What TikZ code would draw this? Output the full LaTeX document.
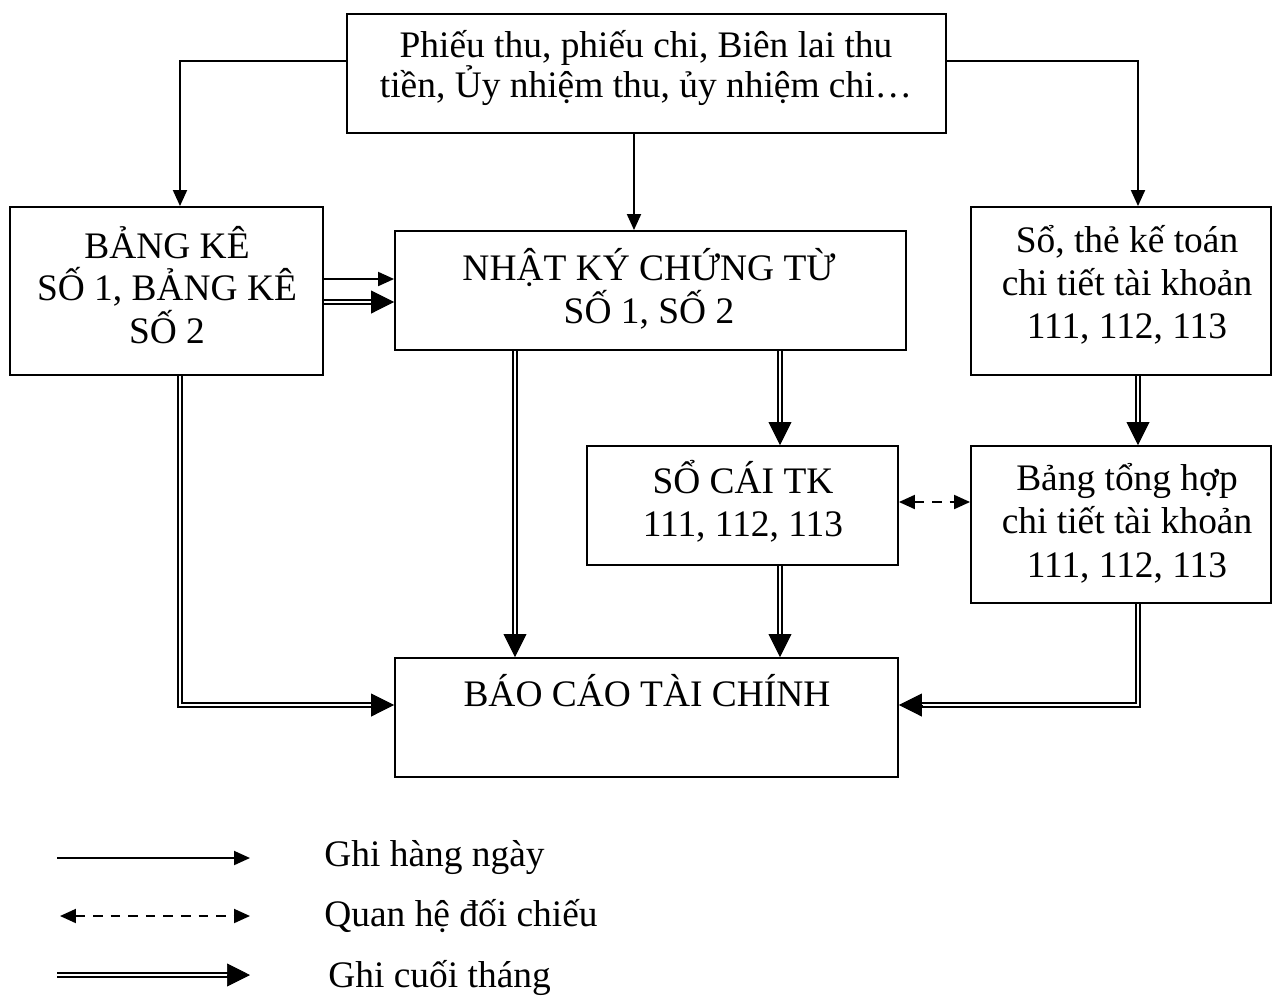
\documentclass[tikz,border=0pt]{standalone}
\usepackage{fontspec}
\setmainfont{Liberation Serif}
\usetikzlibrary{arrows.meta,calc}
\begin{document}
\begin{tikzpicture}[x=0.02cm,y=-0.02cm,
  box/.style={draw, line width=1.1pt, inner sep=0pt},
  txt/.style={align=center, font=\fontsize{21.3}{24.3}\selectfont, inner sep=0pt},
  sarrow/.style={line width=1.1pt, -{Triangle[length=0.32cm,width=0.28cm]}},
  darrow/.style={line width=1.1pt, dash pattern=on 5.5pt off 4.5pt, {Triangle[length=0.32cm,width=0.28cm]}-{Triangle[length=0.32cm,width=0.28cm]}},
  dbl/.style={double, double distance=1.1pt, line width=1.1pt, shorten >=0.44cm},
  dtip/.style={line width=0.4pt, -{Triangle[length=0.46cm,width=0.46cm]}}
]
\useasboundingbox (0,0) rectangle (1272,995);
% boxes
\node[box, minimum width=11.98cm, minimum height=2.38cm] (top) at (646.5,73.5) {};
\node[box, minimum width=6.26cm, minimum height=3.36cm] (bk) at (166.5,291) {};
\node[box, minimum width=10.22cm, minimum height=2.38cm] (nk) at (650.5,290.5) {};
\node[box, minimum width=6.0cm, minimum height=3.36cm] (st) at (1121,291) {};
\node[box, minimum width=6.22cm, minimum height=2.38cm] (sc) at (742.5,505.5) {};
\node[box, minimum width=6.0cm, minimum height=3.14cm] (bt) at (1121,524.5) {};
\node[box, minimum width=10.06cm, minimum height=2.38cm] (bc) at (646.5,717.5) {};
% texts
\node[txt, font=\fontsize{21.3}{22.8}\selectfont] (ttop) at (646,68) {Phiếu thu, phiếu chi, Biên lai thu\\tiền, Ủy nhiệm thu, ủy nhiệm chi…};
\node[txt] (tbk) at (167,285) {BẢNG KÊ\\SỐ 1, BẢNG KÊ\\SỐ 2};
\node[txt] (tnk) at (649,289) {NHẬT KÝ CHỨNG TỪ\\SỐ 1, SỐ 2};
\node[txt] (tst) at (1127,285) {Sổ, thẻ kế toán\\chi tiết tài khoản\\111, 112, 113};
\node[txt] (tsc) at (743,501) {SỔ CÁI TK\\111, 112, 113};
\node[txt, font=\fontsize{21.3}{24.7}\selectfont] (tbt) at (1127,523) {Bảng tổng hợp\\chi tiết tài khoản\\111, 112, 113};
\node[txt] (tbc) at (647,691) {BÁO CÁO TÀI CHÍNH};
% helper coordinates
\coordinate (cL) at (180,0);
\coordinate (cM) at (634,0);
\coordinate (cR) at (1138,0);
\coordinate (c515) at (515,0);
\coordinate (c780) at (780,0);
\coordinate (y61) at (0,61);
\coordinate (y279) at (0,279);
\coordinate (y302) at (0,302);
\coordinate (y502) at (0,502);
\coordinate (y705) at (0,705);
% daily arrows
\draw[sarrow] (top.west |- y61) -| (bk.north -| cL);
\draw[sarrow] (top.south -| cM) -- (nk.north -| cM);
\draw[sarrow] (top.east |- y61) -| (st.north -| cR);
\draw[sarrow] (bk.east |- y279) -- (nk.west |- y279);
% comparison
\draw[darrow] (sc.east |- y502) -- (bt.west |- y502);
% end-of-month arrows
\coordinate (e1) at (nk.west |- y302);
\draw[dbl] (bk.east |- y302) -- (e1);
\draw[dtip] ([xshift=-0.46cm]e1) -- (e1);
\coordinate (e2) at (bc.west |- y705);
\draw[dbl] (bk.south -| cL) |- (e2);
\draw[dtip] ([xshift=-0.46cm]e2) -- (e2);
\coordinate (e3) at (bc.north -| c515);
\draw[dbl] (nk.south -| c515) -- (e3);
\draw[dtip] ([yshift=0.46cm]e3) -- (e3);
\coordinate (e4) at (sc.north -| c780);
\draw[dbl] (nk.south -| c780) -- (e4);
\draw[dtip] ([yshift=0.46cm]e4) -- (e4);
\coordinate (e5) at (bc.north -| c780);
\draw[dbl] (sc.south -| c780) -- (e5);
\draw[dtip] ([yshift=0.46cm]e5) -- (e5);
\coordinate (e6) at (bt.north -| cR);
\draw[dbl] (st.south -| cR) -- (e6);
\draw[dtip] ([yshift=0.46cm]e6) -- (e6);
\coordinate (e7) at (bc.east |- y705);
\draw[dbl] (bt.south -| cR) |- (e7);
\draw[dtip] ([xshift=0.46cm]e7) -- (e7);
% legend
\coordinate (l1a) at (57,858);
\coordinate (l1b) at (250,858);
\coordinate (l2a) at (60,916);
\coordinate (l2b) at (250,916);
\coordinate (l3a) at (57,975);
\coordinate (l3b) at (250,975);
\draw[sarrow] (l1a) -- (l1b);
\draw[darrow] (l2a) -- (l2b);
\draw[dbl] (l3a) -- (l3b);
\draw[dtip] ([xshift=-0.46cm]l3b) -- (l3b);
\node[txt, anchor=west] (g1) at (324,858) {Ghi hàng ngày};
\node[txt, anchor=west] (g2) at (324,916) {Quan hệ đối chiếu};
\node[txt, anchor=west] (g3) at (328,978) {Ghi cuối tháng};
\end{tikzpicture}
\end{document}
